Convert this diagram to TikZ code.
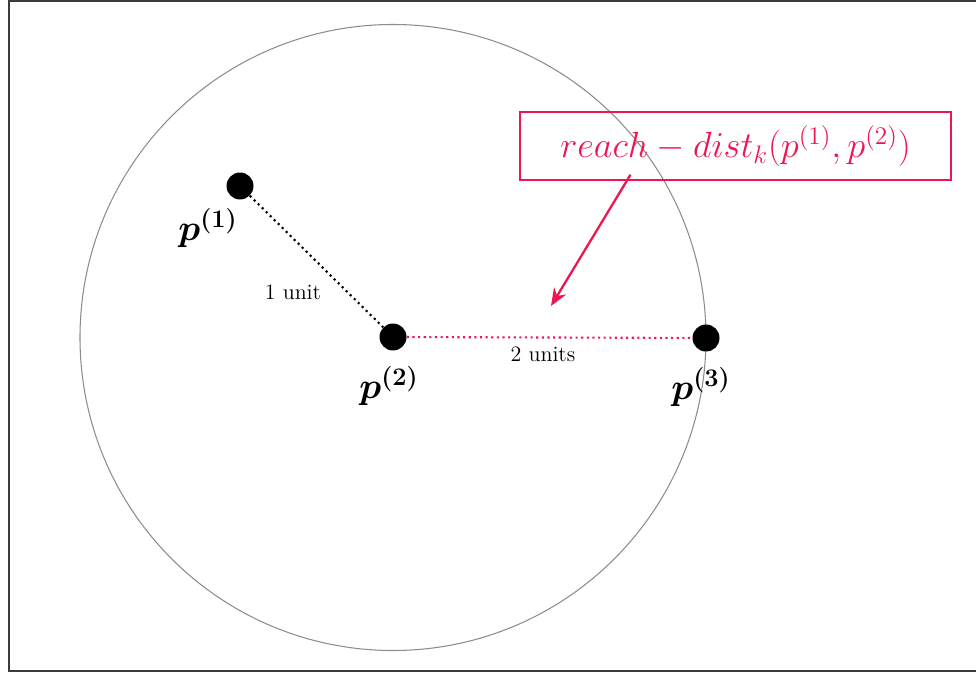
\documentclass[tikz,border=0pt]{standalone}
\usepackage{amsmath}
\usepackage{amssymb}
\usepackage{tikz}
\usetikzlibrary{arrows.meta, positioning}
\definecolor{ReachRed}{HTML}{EE1650}
\definecolor{FrameGray}{HTML}{3A3A3A}
\definecolor{CircGray}{HTML}{8C8C8C}

\begin{document}
\begin{tikzpicture}[x=0.02cm, y=-0.02cm,
  pt/.style={circle, fill=black, inner sep=0pt, minimum size=0.54cm},
  plabel/.style={font=\fontsize{20}{24}\selectfont\boldmath, inner sep=0pt},
  dlabel/.style={font=\fontsize{12.5}{15}\selectfont, inner sep=1pt},
  link/.style={dotted, line width=1.2pt},
  arrow/.style={-{Stealth[length=10pt, width=8pt]}, line width=1.3pt, color=ReachRed}
]
\useasboundingbox (0,0) rectangle (976,675);
\draw[FrameGray, line width=1.2pt] (976,1) -- (9,1) -- (9,671) -- (976,671);

\draw[CircGray, line width=0.6pt] (393,337.5) circle (0.02cm*313);

\node[pt] (p1) at (240,186) {};
\node[pt] (p2) at (393,337) {};
\node[pt] (p3) at (706,338) {};

\draw[link, black] (p1) -- (p2);
\draw[link, ReachRed] (p2) -- (p3);

\node[plabel] (l1) at (208,228) {$p^{(1)}$};
\node[plabel] (l2) at (389,386) {$p^{(2)}$};
\node[plabel] (l3) at (701,387) {$p^{(3)}$};

\node[dlabel] (d1) at (293,292) {1 unit};
\node[dlabel] (d2) at (543,354) {2 units};

\node[draw=ReachRed, line width=0.8pt, text=ReachRed, minimum width=0.02cm*431,
  minimum height=0.02cm*68, font=\fontsize{20.5}{24}\selectfont] (rd) at (735.5,146)
  {$reach-dist_k(p^{(1)},p^{(2)})$};
\coordinate (tip) at (551,306);
\draw[arrow] ([xshift=0.02cm*(-105)]rd.south) ++(0,-6) -- (tip);
\end{tikzpicture}
\end{document}
